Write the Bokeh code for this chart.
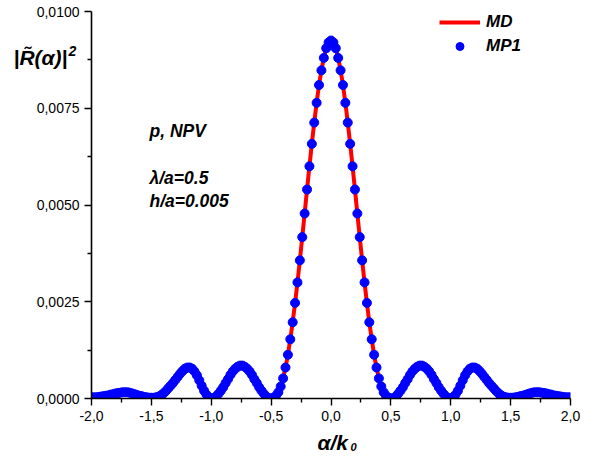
import numpy as np
from bokeh.plotting import figure
from bokeh.models import (FixedTicker, CustomJSTickFormatter, Label, Legend,
                          LegendItem, ColumnDataSource, Range1d, BoxAnnotation)
from bokeh.embed import file_html
from bokeh.resources import INLINE

# ---- data ----
# sampling grid alpha/k0 from -2.0 to 2.0, step 0.02
alpha = np.round(np.linspace(-2.0, 2.0, 201), 2)

# |R(alpha)|^2 for alpha = -2.00 ... -0.02
r2_left = [
    0.00003, 0.00003, 0.00003, 0.00004, 0.00005, 0.00006, 0.00007, 0.00008, 0.00010, 0.00011,
    0.00013, 0.00014, 0.00015, 0.00016, 0.00016, 0.00016, 0.00015, 0.00013, 0.00011, 0.00009,
    0.00007, 0.00006, 0.00004, 0.00003, 0.00002,
    0.00002, 0.00002, 0.00003, 0.00005, 0.00008, 0.00013, 0.00019, 0.00026, 0.00033, 0.00040,
    0.00048, 0.00056, 0.00064, 0.00071, 0.00077, 0.00080, 0.00080, 0.00077, 0.00070, 0.00060,
    0.00047, 0.00033, 0.00020, 0.00010, 0.00003,
    0.00000, 0.00001, 0.00005, 0.00012, 0.00020, 0.00029, 0.00040, 0.00050, 0.00061, 0.00070,
    0.00077, 0.00082, 0.00085, 0.00085, 0.00082, 0.00077, 0.00070, 0.00061, 0.00050, 0.00040,
    0.00029, 0.00020, 0.00012, 0.00005, 0.00001,
    0.00000, 0.00002, 0.00007, 0.00016, 0.00031, 0.00052, 0.00080, 0.00113, 0.00153, 0.00197,
    0.00247, 0.00300, 0.00357, 0.00417, 0.00478, 0.00540, 0.00600, 0.00658, 0.00713, 0.00764,
    0.00810, 0.00848, 0.00880, 0.00905, 0.00920,
]
# |R(alpha)|^2 for alpha = 0.00 ... 2.00
r2_right = [
    0.00925, 0.00920, 0.00905, 0.00880, 0.00848, 0.00810, 0.00764, 0.00713, 0.00658, 0.00600,
    0.00540, 0.00478, 0.00417, 0.00357, 0.00300, 0.00247, 0.00197, 0.00153, 0.00113, 0.00080,
    0.00052, 0.00031, 0.00016, 0.00007, 0.00002, 0.00000,
    0.00001, 0.00005, 0.00012, 0.00020, 0.00029, 0.00040, 0.00050, 0.00061, 0.00070, 0.00077,
    0.00082, 0.00085, 0.00085, 0.00082, 0.00077, 0.00070, 0.00061, 0.00050, 0.00040, 0.00029,
    0.00020, 0.00012, 0.00005, 0.00001, 0.00000,
    0.00003, 0.00010, 0.00020, 0.00033, 0.00047, 0.00060, 0.00070, 0.00077, 0.00080, 0.00080,
    0.00077, 0.00071, 0.00064, 0.00056, 0.00048, 0.00040, 0.00033, 0.00026, 0.00019, 0.00013,
    0.00008, 0.00005, 0.00003, 0.00002, 0.00002,
    0.00002, 0.00003, 0.00004, 0.00006, 0.00007, 0.00009, 0.00011, 0.00013, 0.00015, 0.00016,
    0.00016, 0.00016, 0.00015, 0.00014, 0.00013, 0.00011, 0.00010, 0.00008, 0.00007, 0.00006,
    0.00005, 0.00004, 0.00003, 0.00003, 0.00003,
]
md_values = r2_left + r2_right   # MD curve
mp1_values = r2_left + r2_right  # MP1 points

x_ticks = [-2.0, -1.5, -1.0, -0.5, 0.0, 0.5, 1.0, 1.5, 2.0]
x_minor = [-1.75, -1.25, -0.75, -0.25, 0.25, 0.75, 1.25, 1.75]
y_ticks = [0.0, 0.0025, 0.005, 0.0075, 0.01]
y_minor = [0.00125, 0.00375, 0.00625, 0.00875]

# ---- layout geometry (pixels) ----
W, H = 592, 455
AX_L, AX_R, AX_T, AX_B = 91, 570, 11, 398      # where the axes box sits
XS = (AX_R - AX_L) / 4.0                        # px per unit alpha
YS = (AX_B - AX_T) / 0.01                       # px per unit |R|^2

x0 = -2.0 - AX_L / XS
x1 = 2.0 + (W - AX_R) / XS
y0 = -(H - AX_B) / YS
y1 = 0.01 + AX_T / YS

p = figure(width=W, height=H, output_backend="svg", toolbar_location=None,
           x_range=Range1d(x0, x1), y_range=Range1d(y0, y1),
           min_border=0, min_border_left=0, min_border_right=0,
           min_border_top=0, min_border_bottom=0)
p.outline_line_color = None
p.xgrid.visible = False
p.ygrid.visible = False
p.background_fill_color = "white"
p.border_fill_color = "white"

src = ColumnDataSource(dict(x=alpha, md=md_values, mp1=mp1_values))
r_line = p.line("x", "md", source=src, line_color="#FF0000", line_width=4)
r_pts = p.scatter("x", "mp1", source=src, size=9, fill_color="#0000FF",
                  line_color="#0000FF")

# white masks so that the marks end at the axes, like the original
for kw in (dict(top=0.0), dict(right=-2.0), dict(left=2.0)):
    p.add_layout(BoxAnnotation(fill_color="white", fill_alpha=1.0,
                               line_alpha=0.0, level="glyph", **kw))

FONT = "Liberation Sans"
xa, ya = p.xaxis[0], p.yaxis[0]
xa.fixed_location = 0.0
ya.fixed_location = -2.0
xa.bounds = (-2.0, 2.0)
ya.bounds = (0.0, 0.01)
for ax in (xa, ya):
    ax.axis_line_width = 1.6
    ax.axis_line_color = "black"
    ax.major_tick_line_color = "black"
    ax.minor_tick_line_color = "black"
    ax.major_tick_line_width = 1.4
    ax.minor_tick_line_width = 1.4
    ax.major_tick_out = 7
    ax.major_tick_in = 0
    ax.minor_tick_out = 4
    ax.minor_tick_in = 0
    ax.major_label_text_font = FONT
    ax.major_label_text_font_size = "14px"
    ax.major_label_text_color = "black"
    ax.major_label_standoff = 5

xa.ticker = FixedTicker(ticks=x_ticks, minor_ticks=x_minor)
ya.ticker = FixedTicker(ticks=y_ticks, minor_ticks=y_minor)
xa.formatter = CustomJSTickFormatter(
    code="return tick.toFixed(1).replace('.', ',');")
ya.formatter = CustomJSTickFormatter(
    code="return tick.toFixed(4).replace('.', ',');")

def dx(px):
    return -2.0 + (px - AX_L) / XS

def dy(py):
    return (AX_B - py) / YS

def lab(px, py, text, size, style="bold italic", font=FONT):
    p.add_layout(Label(x=dx(px), y=dy(py), text=text, text_font=font,
                       text_font_size=size, text_font_style=style,
                       text_color="black", text_baseline="middle",
                       text_align="left"))

# annotation texts
lab(149, 130, "p, NPV", "17.5px")
lab(149, 177, "λ/a=0.5", "17.5px")
lab(149, 200, "h/a=0.005", "17.5px")

# y-axis label
lab(13, 57, "|R\u0303(α)|", "21px")
lab(68, 50, "2", "14px")

# x-axis label
lab(317, 442, "α/k", "21px")
lab(350, 446, "0", "11px")

legend = Legend(items=[LegendItem(label="MD", renderers=[r_line]),
                       LegendItem(label="MP1", renderers=[r_pts])],
                location=(439, H - 12 - 44), padding=0, margin=0, spacing=4,
                glyph_width=41, glyph_height=20, label_height=20,
                label_standoff=6, border_line_color=None,
                background_fill_alpha=0,
                label_text_font=FONT, label_text_font_style="bold italic",
                label_text_font_size="17px", label_text_color="black")
p.add_layout(legend)

open("out.html", "w").write(file_html(p, INLINE))
